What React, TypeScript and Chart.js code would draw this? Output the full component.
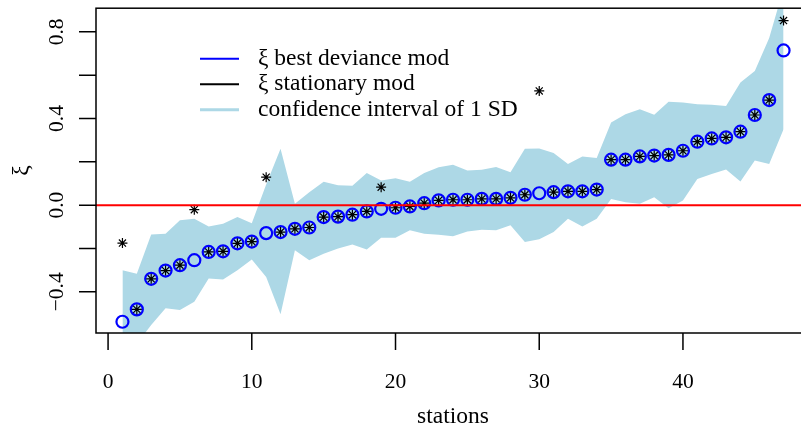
import React, { useEffect, useRef } from "react";
import Chart from "chart.js/auto";

// ---- data ----
const stations = Array.from({ length: 47 }, (_, i) => i + 1);

const bestDeviance = [
  -0.538, -0.481, -0.34, -0.302, -0.277, -0.254, -0.216, -0.213, -0.176, -0.168,
  -0.129, -0.124, -0.109, -0.103, -0.055, -0.053, -0.044, -0.029, -0.017, -0.012,
  -0.006, 0.009, 0.022, 0.025, 0.025, 0.029, 0.029, 0.034, 0.048, 0.055,
  0.06, 0.064, 0.064, 0.072, 0.21, 0.21, 0.225, 0.229, 0.232, 0.251,
  0.293, 0.308, 0.313, 0.339, 0.416, 0.485, 0.714,
];

const stationary = [
  -0.175, -0.481, -0.34, -0.302, -0.277, -0.021, -0.216, -0.213, -0.176, -0.168,
  0.129, -0.124, -0.109, -0.103, -0.055, -0.053, -0.044, -0.029, 0.083, -0.012,
  -0.006, 0.009, 0.022, 0.025, 0.025, 0.029, 0.029, 0.034, 0.048, 0.527,
  0.06, 0.064, 0.064, 0.072, 0.21, 0.21, 0.225, 0.229, 0.232, 0.251,
  0.293, 0.308, 0.313, 0.339, 0.416, 0.485, 0.852,
];

const ciUpper = [
  -0.3, -0.316, -0.135, -0.132, -0.07, -0.063, -0.098, -0.086, -0.055, -0.083,
  0.095, 0.26, 0.006, 0.06, 0.108, 0.092, 0.09, 0.148, 0.114, 0.124,
  0.108, 0.148, 0.175, 0.186, 0.16, 0.163, 0.176, 0.152, 0.26, 0.262,
  0.241, 0.19, 0.224, 0.218, 0.382, 0.42, 0.443, 0.417, 0.477, 0.474,
  0.466, 0.463, 0.458, 0.566, 0.619, 0.772, 1.0,
];

const ciLower = [
  -0.75, -0.64, -0.553, -0.476, -0.484, -0.446, -0.338, -0.343, -0.3, -0.251,
  -0.331, -0.503, -0.208, -0.254, -0.224, -0.2, -0.182, -0.205, -0.15, -0.15,
  -0.116, -0.132, -0.136, -0.144, -0.121, -0.113, -0.116, -0.093, -0.17, -0.157,
  -0.124, -0.063, -0.098, -0.063, 0.029, 0.014, 0.006, 0.037, -0.014, 0.022,
  0.121, 0.144, 0.164, 0.109, 0.206, 0.19, 0.35,
];

const xTicks = [0, 10, 20, 30, 40];
const yTicks = [-0.4, -0.2, 0, 0.2, 0.4, 0.6, 0.8];
const yLabelValues = [-0.4, 0, 0.4, 0.8];
const yLabelTexts = ["\u22120.4", "0.0", "0.4", "0.8"];
const legendLabels = [
  "\u03BE best deviance mod",
  "\u03BE stationary mod",
  "confidence interval of 1 SD",
];
const xTitle = "stations";
const yTitle = "\u03BE";
const refLine = 0;

const X_MIN = -0.84;
const X_MAX = 48.84;
const Y_MIN = -0.59;
const Y_MAX = 0.909;

const BLUE = "#0000FF";
const LIGHTBLUE = "#ADD8E6";
const RED = "#FF0000";
const FONT = '"Liberation Serif", "Times New Roman", serif';

const refLinePlugin = {
  id: "refLine",
  afterDatasetsDraw(chart: any) {
    const { ctx, chartArea: a, scales } = chart;
    const py = scales.y.getPixelForValue(refLine);
    ctx.save();
    ctx.beginPath();
    ctx.rect(a.left, a.top, a.right - a.left, a.bottom - a.top);
    ctx.clip();
    ctx.strokeStyle = RED;
    ctx.lineWidth = 2;
    ctx.beginPath();
    ctx.moveTo(a.left, py);
    ctx.lineTo(a.right, py);
    ctx.stroke();
    ctx.restore();
  },
};

const axesPlugin = {
  id: "rAxes",
  afterDraw(chart: any) {
    const { ctx, chartArea: a, scales } = chart;
    const xs = scales.x;
    const ys = scales.y;
    ctx.save();
    ctx.strokeStyle = "#000";
    ctx.fillStyle = "#000";
    ctx.lineWidth = 1.5;
    ctx.strokeRect(a.left, a.top, a.right - a.left, a.bottom - a.top);

    // x axis
    ctx.beginPath();
    xTicks.forEach((v) => {
      const px = xs.getPixelForValue(v);
      ctx.moveTo(px, a.bottom);
      ctx.lineTo(px, a.bottom + 17);
    });
    ctx.stroke();
    ctx.font = "21.5px " + FONT;
    ctx.textAlign = "center";
    ctx.textBaseline = "alphabetic";
    xTicks.forEach((v) => {
      ctx.fillText(String(v), xs.getPixelForValue(v), a.bottom + 55);
    });

    // y axis
    ctx.beginPath();
    yTicks.forEach((v) => {
      const py = ys.getPixelForValue(v);
      ctx.moveTo(a.left, py);
      ctx.lineTo(a.left - 17, py);
    });
    ctx.stroke();
    yLabelValues.forEach((v, i) => {
      const py = ys.getPixelForValue(v);
      ctx.save();
      ctx.translate(a.left - 33, py);
      ctx.rotate(-Math.PI / 2);
      ctx.textAlign = "center";
      ctx.textBaseline = "alphabetic";
      ctx.fillText(yLabelTexts[i], 0, 0);
      ctx.restore();
    });

    // titles
    ctx.font = "23.5px " + FONT;
    ctx.textAlign = "center";
    ctx.textBaseline = "alphabetic";
    ctx.fillText(xTitle, (a.left + a.right) / 2, a.bottom + 90);
    ctx.save();
    ctx.translate(a.left - 68, (a.top + a.bottom) / 2);
    ctx.rotate(-Math.PI / 2);
    ctx.fillText(yTitle, 0, 0);
    ctx.restore();

    // legend (no box)
    const colors = [BLUE, "#000000", LIGHTBLUE];
    const widths = [2, 2, 3];
    const lx0 = a.left + 104;
    const lx1 = a.left + 143;
    const tx = a.left + 162;
    const rowY = [a.top + 50.5, a.top + 76, a.top + 101.5];
    ctx.font = "23.5px " + FONT;
    ctx.textAlign = "left";
    ctx.textBaseline = "middle";
    legendLabels.forEach((lab, i) => {
      ctx.strokeStyle = colors[i];
      ctx.lineWidth = widths[i];
      ctx.beginPath();
      ctx.moveTo(lx0, rowY[i]);
      ctx.lineTo(lx1, rowY[i]);
      ctx.stroke();
      ctx.fillStyle = "#000";
      ctx.fillText(lab, tx, rowY[i]);
    });
    ctx.restore();
  },
};

export default function App() {
  const ref = useRef<HTMLCanvasElement | null>(null);

  useEffect(() => {
    const canvas = ref.current;
    if (!canvas) return;
    const toPts = (arr: number[]) => stations.map((s, i) => ({ x: s, y: arr[i] }));
    const chart = new Chart(canvas, {
      type: "line",
      data: {
        datasets: [
          {
            label: "upper",
            data: toPts(ciUpper),
            borderWidth: 0,
            borderColor: LIGHTBLUE,
            backgroundColor: LIGHTBLUE,
            pointRadius: 0,
            fill: "+1",
            tension: 0,
            order: 4,
          },
          {
            label: "lower",
            data: toPts(ciLower),
            borderWidth: 0,
            borderColor: LIGHTBLUE,
            backgroundColor: LIGHTBLUE,
            pointRadius: 0,
            fill: false,
            tension: 0,
            order: 3,
          },
          {
            label: "best",
            data: toPts(bestDeviance),
            showLine: false,
            pointStyle: "circle",
            pointRadius: 6,
            pointBorderWidth: 2.2,
            pointBorderColor: BLUE,
            pointBackgroundColor: "rgba(0,0,0,0)",
            borderColor: BLUE,
            backgroundColor: "rgba(0,0,0,0)",
            fill: false,
            order: 2,
          },
          {
            label: "stationary",
            data: toPts(stationary),
            showLine: false,
            pointStyle: "star",
            pointRadius: 5,
            pointBorderWidth: 1.2,
            pointBorderColor: "#000",
            pointBackgroundColor: "#000",
            borderColor: "#000",
            fill: false,
            order: 1,
          },
        ],
      },
      options: {
        responsive: false,
        maintainAspectRatio: false,
        devicePixelRatio: 1,
        animation: false,
        events: [],
        layout: { padding: { left: 96, top: 7, right: 20, bottom: 100 } },
        scales: {
          x: { type: "linear", min: X_MIN, max: X_MAX, display: false },
          y: { type: "linear", min: Y_MIN, max: Y_MAX, display: false },
        },
        plugins: {
          legend: { display: false },
          tooltip: { enabled: false },
          filler: { drawTime: "beforeDatasetsDraw" },
        },
      } as any,
      plugins: [refLinePlugin, axesPlugin],
    });
    return () => chart.destroy();
  }, []);

  return (
    <div
      style={{
        position: "fixed",
        left: 0,
        top: 0,
        width: 801,
        height: 433,
        overflow: "hidden",
        background: "#fff",
      }}
    >
      <canvas
        ref={ref}
        width={830}
        height={433}
        style={{ width: 830, height: 433, display: "block" }}
      />
    </div>
  );
}
